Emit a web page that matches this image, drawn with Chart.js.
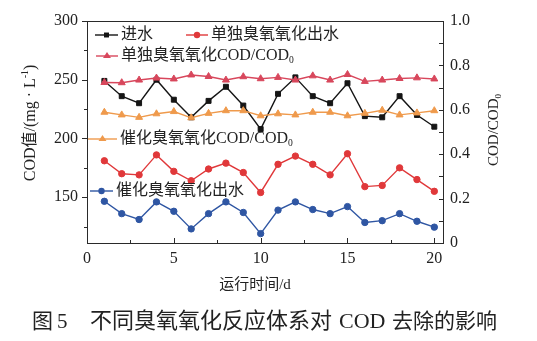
<!DOCTYPE html>
<html>
<head>
<meta charset="utf-8">
<script src="https://cdn.jsdelivr.net/npm/chart.js@4.4.1/dist/chart.umd.min.js"></script>
<style>
  html, body { margin: 0; padding: 0; background: #fff; }
  #wrap { width: 537px; height: 341px; }
</style>
</head>
<body>
<div id="wrap"><canvas id="cod-chart" width="537" height="341"></canvas></div>
<script>
// data
const days = [1, 2, 3, 4, 5, 6, 7, 8, 9, 10, 11, 12, 13, 14, 15, 16, 17, 18, 19, 20];
const influent = [249, 236, 230, 250, 233, 218, 232, 244, 228, 208, 238, 252, 236, 230, 247, 219, 218, 236, 220, 210];
const ozoneEffluent = [181, 170, 169, 186, 172, 164, 174, 179, 171, 154, 178, 185, 178, 169, 187, 159, 160, 175, 165, 155];
const catalyticEffluent = [146.5, 136, 131, 146, 138, 123, 136, 146, 137, 119, 139, 146, 139.5, 136, 142, 128.5, 130, 136, 129.5, 124.5];
const ozoneRatio = [0.723, 0.722, 0.734, 0.743, 0.739, 0.757, 0.750, 0.734, 0.749, 0.740, 0.746, 0.734, 0.753, 0.734, 0.759, 0.728, 0.734, 0.741, 0.744, 0.739];
const catalyticRatio = [0.589, 0.577, 0.566, 0.582, 0.592, 0.564, 0.584, 0.596, 0.596, 0.573, 0.582, 0.577, 0.589, 0.589, 0.573, 0.584, 0.598, 0.577, 0.586, 0.596];

const seriesNames = ['进水', '单独臭氧氧化出水', '单独臭氧氧化COD/COD', '催化臭氧氧化COD/COD', '催化臭氧氧化出水'];
const leftTicks = [125, 150, 175, 200, 225, 250, 275, 300];
const rightTicks = [0, 0.1, 0.2, 0.3, 0.4, 0.5, 0.6, 0.7, 0.8, 0.9, 1.0];
const xTicks = [0, 2.5, 5, 7.5, 10, 12.5, 15, 17.5, 20];

const SERIF = '"Liberation Serif", "Noto Sans CJK SC", serif';
const colors = {
    black: '#151515',
    red: '#e0383a',
    rose: '#d8475c',
    orange: '#ef9a4c',
    blue: '#2f56a3'
};

const toPoints = (values) => days.map((d, i) => ({ x: d, y: values[i] }));

function lineSet(label, values, color, style, radius, axis) {
    return {
        label: label,
        data: toPoints(values),
        borderColor: color,
        backgroundColor: color,
        pointBackgroundColor: color,
        pointBorderColor: color,
        pointStyle: style,
        pointRadius: radius,
        pointBorderWidth: 1,
        borderWidth: 1.4,
        tension: 0,
        yAxisID: axis
    };
}

function drawMarker(ctx, style, x, y, r, color) {
    ctx.save();
    ctx.fillStyle = color;
    ctx.beginPath();
    if (style === 'circle') {
        ctx.arc(x, y, r, 0, Math.PI * 2);
    } else if (style === 'rect') {
        const s = r * Math.SQRT1_2;
        ctx.rect(x - s, y - s, 2 * s, 2 * s);
    } else {
        const h = r * 1.5;
        ctx.moveTo(x, y - r);
        ctx.lineTo(x + h / Math.sqrt(3) * 1.15, y + r * 0.5);
        ctx.lineTo(x - h / Math.sqrt(3) * 1.15, y + r * 0.5);
        ctx.closePath();
    }
    ctx.fill();
    ctx.restore();
}

// text with an optional subscript / superscript tail
function drawRich(ctx, parts, x, y, size) {
    let cx = x;
    parts.forEach(p => {
        const fs = p.sub || p.sup ? size * 0.6 : size;
        ctx.font = fs + 'px ' + SERIF;
        const dy = p.sub ? size * 0.3 : (p.sup ? -size * 0.35 : 0);
        ctx.fillText(p.t, cx, y + dy);
        cx += ctx.measureText(p.t).width;
    });
    return cx - x;
}

function measureRich(ctx, parts, size) {
    let w = 0;
    parts.forEach(p => {
        const fs = p.sub || p.sup ? size * 0.6 : size;
        ctx.font = fs + 'px ' + SERIF;
        w += ctx.measureText(p.t).width;
    });
    return w;
}

// in-plot legend entries, placed like the original annotations
const legendItems = [
    { name: seriesNames[0], color: colors.black, style: 'rect', r: 3.5, x0: 95, x1: 118, y: 35, sub: false },
    { name: seriesNames[1], color: colors.red, style: 'circle', r: 3.2, x0: 186, x1: 208, y: 35, sub: false },
    { name: seriesNames[2], color: colors.rose, style: 'triangle', r: 4, x0: 96, x1: 118, y: 56, sub: true },
    { name: seriesNames[3], color: colors.orange, style: 'triangle', r: 4, x0: 88, x1: 117, y: 139, sub: true },
    { name: seriesNames[4], color: colors.blue, style: 'circle', r: 3.2, x0: 90, x1: 113, y: 191, sub: false }
];

const decorPlugin = {
    id: 'decor',
    afterDraw(chart) {
        const ctx = chart.ctx;
        const area = chart.chartArea;
        const sx = chart.scales.x, yl = chart.scales.y, yr = chart.scales.y1;

        ctx.save();
        // frame
        ctx.strokeStyle = '#2a2a2a';
        ctx.lineWidth = 1;
        ctx.strokeRect(Math.round(area.left) + 0.5, Math.round(area.top) + 0.5,
            Math.round(area.right - area.left), Math.round(area.bottom - area.top));

        ctx.beginPath();
        // left ticks, outward
        leftTicks.forEach(v => {
            const y = Math.round(yl.getPixelForValue(v)) + 0.5;
            const len = v % 50 === 0 ? 5 : 3;
            ctx.moveTo(area.left, y);
            ctx.lineTo(area.left - len, y);
        });
        // right ticks, inward
        rightTicks.forEach(v => {
            const y = Math.round(yr.getPixelForValue(v)) + 0.5;
            ctx.moveTo(area.right, y);
            ctx.lineTo(area.right - 4, y);
        });
        // bottom ticks, inward
        xTicks.forEach(v => {
            const x = Math.round(sx.getPixelForValue(v)) + 0.5;
            const len = v % 5 === 0 ? 5 : 3;
            ctx.moveTo(x, area.bottom);
            ctx.lineTo(x, area.bottom - len);
        });
        ctx.stroke();

        // legend annotations
        ctx.textBaseline = 'middle';
        ctx.textAlign = 'left';
        legendItems.forEach(item => {
            ctx.strokeStyle = item.color;
            ctx.lineWidth = 1.4;
            ctx.beginPath();
            ctx.moveTo(item.x0, item.y);
            ctx.lineTo(item.x1, item.y);
            ctx.stroke();
            drawMarker(ctx, item.style, (item.x0 + item.x1) / 2, item.y, item.r, item.color);
            ctx.fillStyle = '#222';
            const parts = [{ t: item.name }];
            if (item.sub) parts.push({ t: '0', sub: true });
            drawRich(ctx, parts, item.x1 + 3, item.y, 16);
        });

        // axis titles
        ctx.fillStyle = '#222';
        const leftTitle = [{ t: 'COD值/(mg · L' }, { t: '-1', sup: true }, { t: ')' }];
        ctx.save();
        ctx.translate(31, 123);
        ctx.rotate(-Math.PI / 2);
        drawRich(ctx, leftTitle, -measureRich(ctx, leftTitle, 16) / 2, 0, 16);
        ctx.restore();

        const rightTitle = [{ t: 'COD/COD' }, { t: '0', sub: true }];
        ctx.save();
        ctx.translate(494, 130);
        ctx.rotate(-Math.PI / 2);
        drawRich(ctx, rightTitle, -measureRich(ctx, rightTitle, 15) / 2, 0, 15);
        ctx.restore();

        const xTitle = [{ t: '运行时间/d' }];
        drawRich(ctx, xTitle, 255 - measureRich(ctx, xTitle, 15) / 2, 285, 15);

        // figure caption
        ctx.font = '21px ' + SERIF;
        ctx.fillText('图', 32, 322);
        ctx.fillText('5', 57, 322);
        ctx.font = '22px ' + SERIF;
        ctx.fillText('不同臭氧氧化反应体系对', 90, 322);
        ctx.fillText('COD', 339, 322);
        ctx.font = '21px ' + SERIF;
        ctx.fillText('去除的影响', 392, 322);
        ctx.restore();
    }
};

const chart = new Chart(document.getElementById('cod-chart').getContext('2d'), {
    type: 'line',
    data: {
        datasets: [
            lineSet(seriesNames[2], ozoneRatio, colors.rose, 'triangle', 4, 'y1'),
            lineSet(seriesNames[3], catalyticRatio, colors.orange, 'triangle', 4, 'y1'),
            lineSet(seriesNames[0], influent, colors.black, 'rect', 3.5, 'y'),
            lineSet(seriesNames[1], ozoneEffluent, colors.red, 'circle', 3.2, 'y'),
            lineSet(seriesNames[4], catalyticEffluent, colors.blue, 'circle', 3.2, 'y')
        ]
    },
    options: {
        responsive: false,
        animation: false,
        devicePixelRatio: 1,
        layout: { padding: { top: 21, bottom: 0, left: 0, right: 0 } },
        plugins: {
            legend: { display: false },
            tooltip: { enabled: false }
        },
        scales: {
            x: {
                type: 'linear',
                min: 0,
                max: 20.5,
                grid: { display: false, drawTicks: false },
                border: { display: false },
                afterBuildTicks: (s) => { s.ticks = xTicks.map(v => ({ value: v })); },
                afterFit: (s) => { s.height = 98; },
                ticks: {
                    autoSkip: false,
                    maxRotation: 0,
                    padding: 6,
                    color: '#222',
                    font: { family: SERIF, size: 16 },
                    callback: (v) => (v % 5 === 0 ? String(v) : '')
                }
            },
            y: {
                type: 'linear',
                position: 'left',
                min: 111,
                max: 300,
                grid: { display: false, drawTicks: false },
                border: { display: false },
                afterBuildTicks: (s) => { s.ticks = leftTicks.map(v => ({ value: v })); },
                afterFit: (s) => { s.width = 87; },
                ticks: {
                    autoSkip: false,
                    padding: 9,
                    color: '#222',
                    font: { family: SERIF, size: 16 },
                    callback: (v) => (v % 50 === 0 ? String(v) : '')
                }
            },
            y1: {
                type: 'linear',
                position: 'right',
                min: 0,
                max: 1,
                grid: { display: false, drawTicks: false },
                border: { display: false },
                afterBuildTicks: (s) => { s.ticks = rightTicks.map(v => ({ value: v })); },
                afterFit: (s) => { s.width = 94; },
                ticks: {
                    autoSkip: false,
                    padding: 7,
                    color: '#222',
                    font: { family: SERIF, size: 16 },
                    callback: (v) => {
                        const k = Math.round(v * 10);
                        if (k % 2 !== 0) return '';
                        return k === 0 ? '0' : (k / 10).toFixed(1);
                    }
                }
            }
        }
    },
    plugins: [decorPlugin]
});
</script>
</body>
</html>
